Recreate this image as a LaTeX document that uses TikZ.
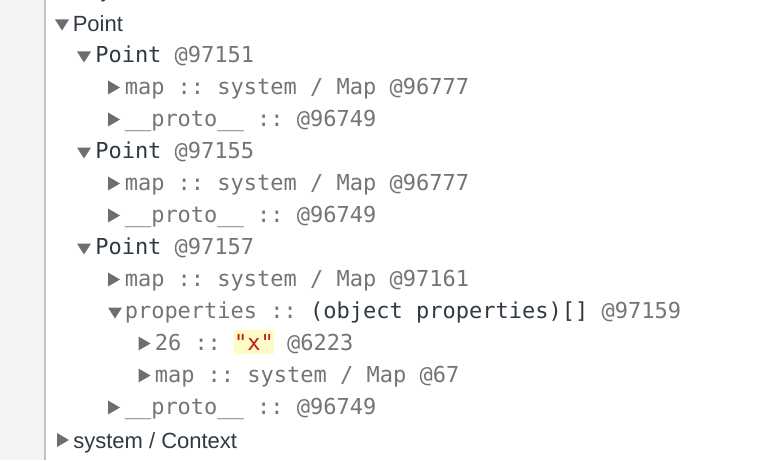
\documentclass[tikz,border=0pt]{standalone}
\usepackage{fontspec}
\setmainfont{Liberation Sans}
\setmonofont{DejaVu Sans Mono}
\usepackage{xcolor}
\usetikzlibrary{positioning}

\definecolor{stripbg}{HTML}{F3F3F3}
\definecolor{stripline}{HTML}{C2C2C2}
\definecolor{textdark}{HTML}{303942}
\definecolor{idgray}{HTML}{747474}
\definecolor{markgray}{HTML}{6E6E6E}
\definecolor{strred}{HTML}{C41A16}
\definecolor{hlyellow}{HTML}{FFFBC8}

\newcommand{\oid}[1]{\textcolor{idgray}{#1}}
\newcommand{\hlstr}[1]{{\setlength{\fboxsep}{0pt}\colorbox{hlyellow}{\rule[-2.6pt]{0pt}{18pt}\textcolor{strred}{#1}}}}

\begin{document}
\begin{tikzpicture}[
    x=0.75pt, y=-0.75pt,
    every node/.style={inner sep=0pt, anchor=base west, text=textdark},
    sansrow/.style={font=\fontsize{16.5}{19}\selectfont\rmfamily},
    monorow/.style={font=\fontsize{16.5}{19}\selectfont\ttfamily},
    edgerow/.style={monorow, text=idgray},
    expanded/.pic={\fill[markgray] (-7,-11) -- (7,-11) -- (0,0) -- cycle;},
    collapsed/.pic={\fill[markgray] (0,0) -- (0,-14) -- (12,-7) -- cycle;}
]
    \useasboundingbox (0,0) rectangle (766,460);
    \clip (0,0) rectangle (766,460);

    % Side strip
    \fill[stripbg] (0,0) rectangle (43.5,460);
    \fill[stripline] (43.5,0) rectangle (46,460);

    % Rows
    \node[sansrow] (object) at (72.5,-2) {Object};
    \node[sansrow] (point) at (72.5,32) {Point};
    \node[monorow] (pt_151) at (95,62.5) {Point \oid{@97151}};
    \node[edgerow] (map_151) at (124.5,94.5) {map :: system / Map @96777};
    \node[edgerow] (proto_151) at (124.5,126.5) {\_\_proto\_\_ :: @96749};
    \node[monorow] (pt_155) at (95,158.5) {Point \oid{@97155}};
    \node[edgerow] (map_155) at (124.5,190.5) {map :: system / Map @96777};
    \node[edgerow] (proto_155) at (124.5,222.5) {\_\_proto\_\_ :: @96749};
    \node[monorow] (pt_157) at (95,254.5) {Point \oid{@97157}};
    \node[edgerow] (map_157) at (124.5,286.5) {map :: system / Map @97161};
    \node[monorow] (props_157) at (124.5,318.5) {\oid{properties ::} (object properties)[] \oid{@97159}};
    \node[edgerow] (x_157) at (154.5,350.5) {26 :: \hlstr{"x"} @6223};
    \node[edgerow] (pmap_157) at (154.5,382.5) {map :: system / Map @67};
    \node[edgerow] (proto_157) at (124.5,414.5) {\_\_proto\_\_ :: @96749};
    \node[sansrow] (context) at (73,448) {system / Context};

    % Markers
    \pic at (62,30.5) {expanded};
    \pic at (84,62.5) {expanded};
    \pic at (108,94.5) {collapsed};
    \pic at (108,126.5) {collapsed};
    \pic at (84,158.5) {expanded};
    \pic at (108,190.5) {collapsed};
    \pic at (108,222.5) {collapsed};
    \pic at (84,254.5) {expanded};
    \pic at (108,286.5) {collapsed};
    \pic at (115,318.5) {expanded};
    \pic at (138.5,350.5) {collapsed};
    \pic at (138.5,382.5) {collapsed};
    \pic at (108,414.5) {collapsed};
    \pic at (57,447) {collapsed};
\end{tikzpicture}
\end{document}
